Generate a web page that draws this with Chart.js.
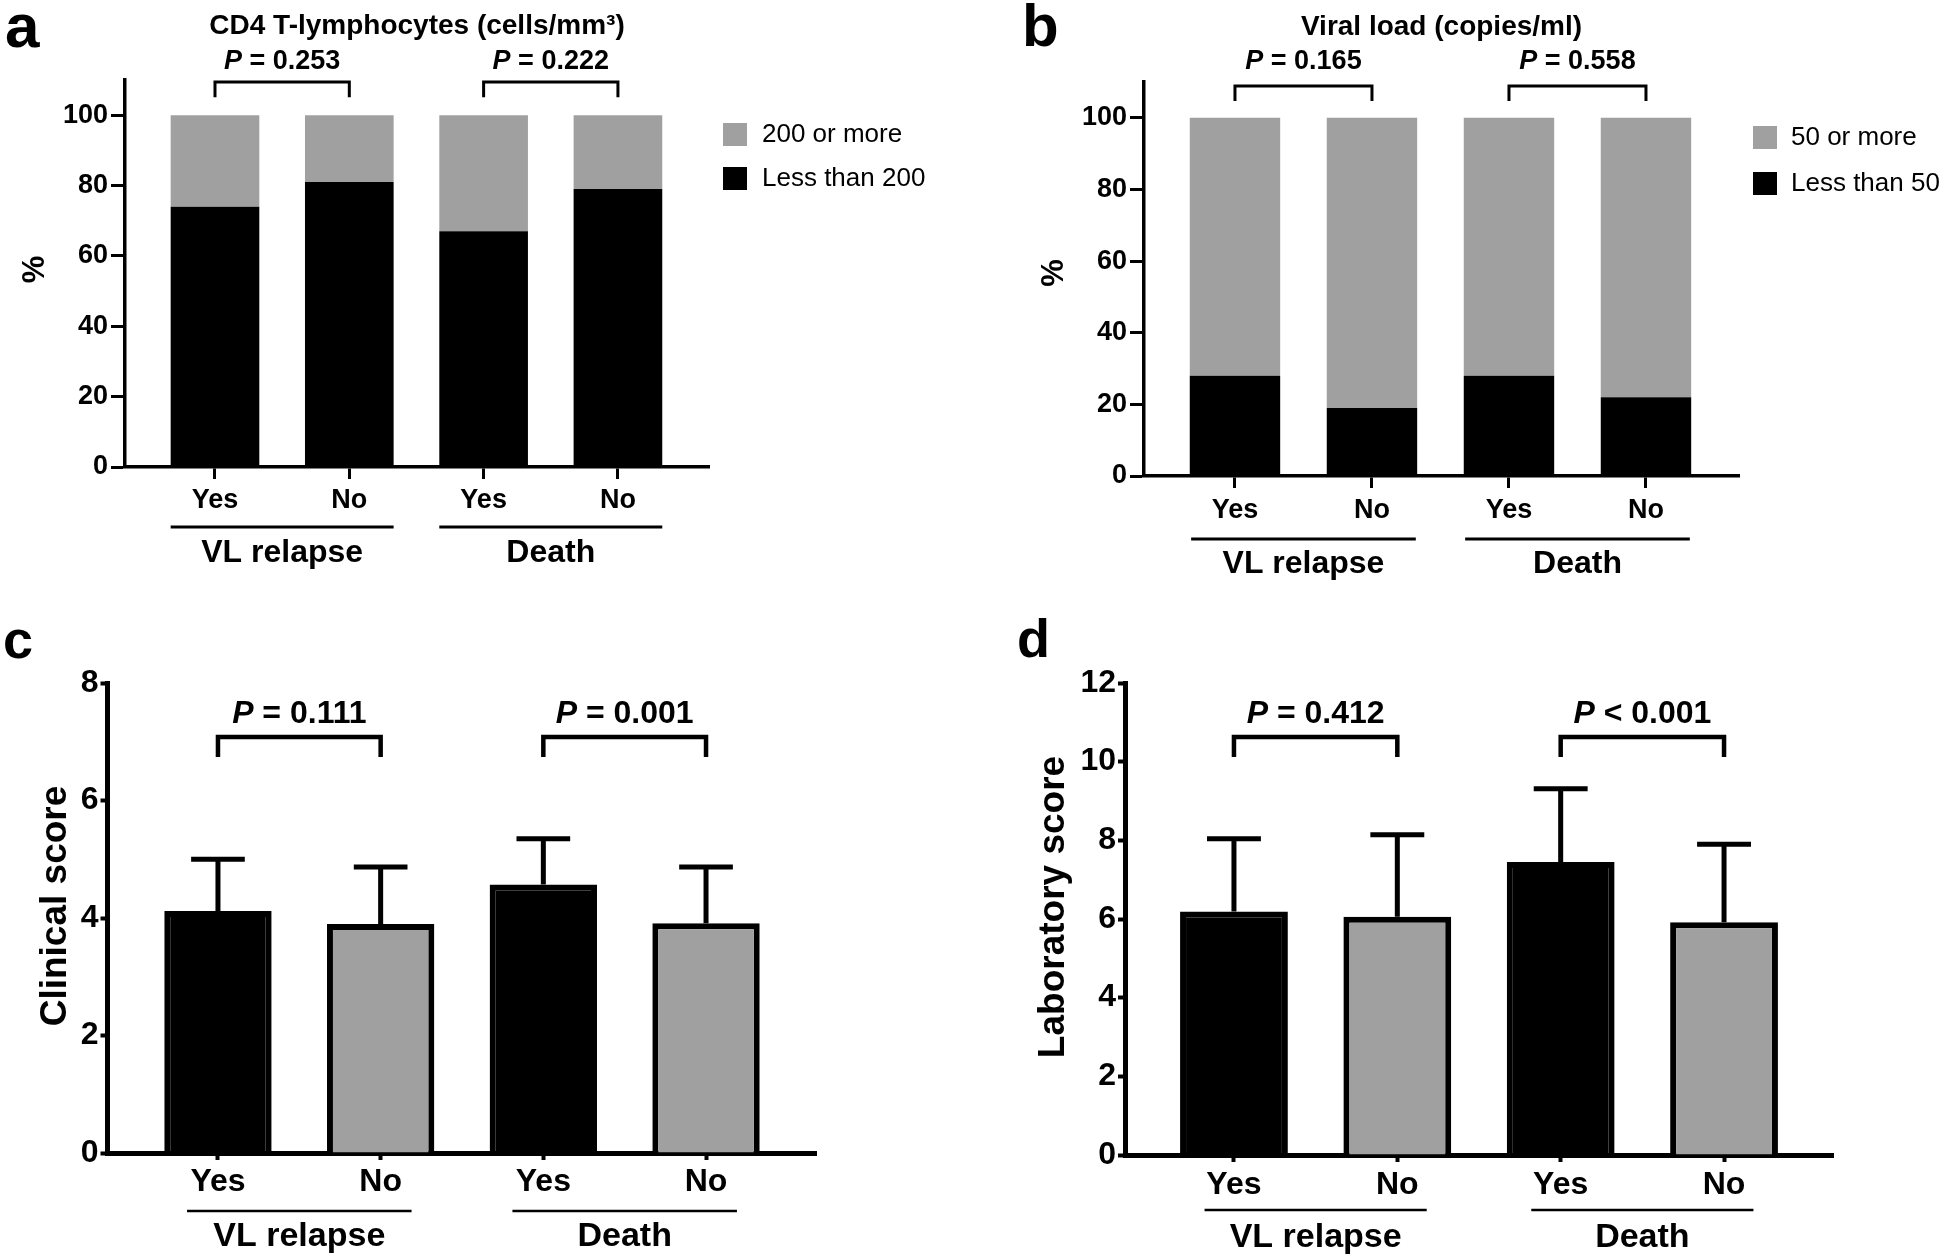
<!DOCTYPE html>
<html>
<head>
<meta charset="utf-8">
<script src="https://cdn.jsdelivr.net/npm/chart.js@4.4.1/dist/chart.umd.min.js"></script>
<style>
  body { margin: 0; background: #fff; }
  #page { position: relative; width: 1960px; height: 1260px; overflow: hidden; }
  canvas { position: absolute; }
</style>
</head>
<body>
<div id="page">
  <canvas id="panelA" width="980" height="600" style="left:0;top:0"></canvas>
  <canvas id="panelB" width="980" height="600" style="left:980px;top:0"></canvas>
  <canvas id="panelC" width="980" height="660" style="left:0;top:600px"></canvas>
  <canvas id="panelD" width="980" height="660" style="left:980px;top:600px"></canvas>
</div>
<script>
// categories
const outcomeLabels = ['Yes', 'No', 'Yes', 'No'];
const groupLabels = ['VL relapse', 'Death'];

// a: CD4 T-lymphocytes (%)
const cd4Below200 = [74, 81, 67, 79];
const cd4Above200 = [26, 19, 33, 21];
const cd4P = ['= 0.253', '= 0.222'];

// b: viral load (%)
const viralBelow50 = [28, 19, 28, 22];
const viralAbove50 = [72, 81, 72, 78];
const viralP = ['= 0.165', '= 0.558'];

// c: clinical score, mean and SD
const clinicalMean = [4.12, 3.90, 4.57, 3.91];
const clinicalSd = [0.88, 0.97, 0.78, 0.96];
const clinicalP = ['= 0.111', '= 0.001'];

// d: laboratory score, mean and SD
const labMean = [6.19, 6.06, 7.45, 5.92];
const labSd = [1.85, 2.08, 1.86, 1.98];
const labP = ['= 0.412', '< 0.001'];

const FONT = "'Liberation Sans', Arial, Helvetica, sans-serif";
const GRAY = '#a0a0a0';
const BLACK = '#000000';

Chart.defaults.font.family = FONT;
Chart.defaults.color = BLACK;

function drawP(ctx, text, cx, cy, size) {
  ctx.font = `italic bold ${size}px ${FONT}`;
  const wP = ctx.measureText('P').width;
  ctx.font = `bold ${size}px ${FONT}`;
  const rest = ' ' + text;
  const wR = ctx.measureText(rest).width;
  const x0 = cx - (wP + wR) / 2;
  ctx.textAlign = 'left';
  ctx.textBaseline = 'middle';
  ctx.font = `italic bold ${size}px ${FONT}`;
  ctx.fillText('P', x0, cy);
  ctx.font = `bold ${size}px ${FONT}`;
  ctx.fillText(rest, x0 + wP, cy);
}

// brackets, p values, group labels, legend, error bars, titles, panel letter
function makeExtras(cfg) {
  return {
    id: 'extras',
    afterDatasetsDraw(chart) {
      if (!cfg.errors) return;
      const { ctx, scales: { x, y } } = chart;
      ctx.save();
      ctx.strokeStyle = BLACK;
      ctx.lineWidth = cfg.errors.width;
      ctx.lineCap = 'butt';
      cfg.errors.mean.forEach((m, i) => {
        const px = x.getPixelForValue(i + 1);
        const yTop = y.getPixelForValue(m + cfg.errors.sd[i]);
        const yBar = y.getPixelForValue(m);
        const half = x.getPixelForValue(i + 1 + cfg.errors.cap) - px;
        ctx.beginPath();
        ctx.moveTo(px, yBar);
        ctx.lineTo(px, yTop);
        ctx.moveTo(px - half, yTop);
        ctx.lineTo(px + half, yTop);
        ctx.stroke();
      });
      ctx.restore();
    },
    afterDraw(chart) {
      const { ctx, chartArea, scales: { x, y } } = chart;
      ctx.save();
      ctx.fillStyle = BLACK;
      ctx.strokeStyle = BLACK;

      // panel letter
      ctx.font = `bold ${cfg.letter.size}px ${FONT}`;
      ctx.textAlign = 'left';
      ctx.textBaseline = 'alphabetic';
      ctx.fillText(cfg.letter.text, cfg.letter.x, cfg.letter.y);

      // panel title, centred over the plot area
      if (cfg.title) {
        ctx.font = `bold ${cfg.title.size}px ${FONT}`;
        ctx.textAlign = 'center';
        ctx.textBaseline = 'middle';
        ctx.fillText(cfg.title.text, (chartArea.left + chartArea.right) / 2, cfg.title.y);
      }

      // y axis title
      const t = cfg.yTitle;
      ctx.save();
      ctx.translate(t.x, (chartArea.top + chartArea.bottom) / 2 + t.shift);
      ctx.rotate(-Math.PI / 2);
      ctx.font = `bold ${t.size}px ${FONT}`;
      ctx.textAlign = 'center';
      ctx.textBaseline = 'middle';
      ctx.fillText(t.text, 0, 0);
      ctx.restore();

      // comparison brackets
      const b = cfg.brackets;
      [[1, 2], [3, 4]].forEach((pair, k) => {
        const x1 = x.getPixelForValue(pair[0]);
        const x2 = x.getPixelForValue(pair[1]);
        const yt = y.getPixelForValue(b.top);
        const yl = y.getPixelForValue(b.leg);
        ctx.lineWidth = b.width;
        ctx.lineJoin = 'miter';
        ctx.beginPath();
        ctx.moveTo(x1, yl);
        ctx.lineTo(x1, yt);
        ctx.lineTo(x2, yt);
        ctx.lineTo(x2, yl);
        ctx.stroke();
        drawP(ctx, b.texts[k], (x1 + x2) / 2, y.getPixelForValue(b.text), b.size);
      });

      // group underlines and names
      const g = cfg.groups;
      groupLabels.forEach((name, k) => {
        const a = k * 2 + 1;
        const xl = x.getPixelForValue(a - g.half);
        const xr = x.getPixelForValue(a + 1 + g.half);
        const yu = chartArea.bottom + g.lineOff;
        ctx.lineWidth = g.lineWidth;
        ctx.beginPath();
        ctx.moveTo(xl, yu);
        ctx.lineTo(xr, yu);
        ctx.stroke();
        ctx.font = `bold ${g.size}px ${FONT}`;
        ctx.textAlign = 'center';
        ctx.textBaseline = 'middle';
        ctx.fillText(name, (x.getPixelForValue(a) + x.getPixelForValue(a + 1)) / 2, chartArea.bottom + g.labelOff);
      });

      // legend (top item = last dataset)
      if (cfg.legend) {
        const L = cfg.legend;
        const sets = chart.data.datasets.slice().reverse();
        sets.forEach((ds, k) => {
          const top = L.y + k * L.gap;
          ctx.fillStyle = ds.backgroundColor;
          ctx.fillRect(L.x, top, L.box, L.box - 1);
          ctx.fillStyle = BLACK;
          ctx.font = `${L.size}px ${FONT}`;
          ctx.textAlign = 'left';
          ctx.textBaseline = 'middle';
          ctx.fillText(ds.label, L.x + L.textGap, top + L.box / 2);
        });
      }
      ctx.restore();
    }
  };
}

function makePanel(id, cfg) {
  const stacked = !!cfg.stacked;
  return new Chart(document.getElementById(id), {
    type: 'bar',
    data: { datasets: cfg.datasets },
    options: {
      responsive: false,
      animation: false,
      devicePixelRatio: 1,
      layout: { padding: cfg.padding },
      plugins: {
        legend: { display: false },
        tooltip: { enabled: false },
        title: { display: false }
      },
      scales: {
        x: {
          type: 'linear',
          stacked,
          offset: false,
          min: cfg.xMin,
          max: cfg.xMax,
          afterBuildTicks: s => { s.ticks = outcomeLabels.map((_, i) => ({ value: i + 1 })); },
          afterFit: s => { s.height = 100; },
          ticks: {
            autoSkip: false,
            maxRotation: 0,
            padding: cfg.xPad,
            color: BLACK,
            font: { size: cfg.tickSize, weight: 'bold' },
            callback: v => outcomeLabels[v - 1]
          },
          grid: { offset: false, drawOnChartArea: false, drawTicks: true, tickLength: cfg.xTick, tickWidth: cfg.tickWidth, tickColor: BLACK },
          border: { display: true, color: BLACK, width: cfg.axisWidth }
        },
        y: {
          stacked,
          min: 0,
          max: cfg.yMax,
          afterFit: s => { s.width = cfg.yWidth; },
          ticks: {
            stepSize: cfg.yStep,
            includeBounds: false,
            padding: cfg.yPad,
            color: BLACK,
            font: { size: cfg.tickSize, weight: 'bold' }
          },
          grid: { drawOnChartArea: false, drawTicks: true, tickLength: cfg.yTick, tickWidth: cfg.tickWidth, tickColor: BLACK },
          border: { display: true, color: BLACK, width: cfg.axisWidth }
        }
      }
    },
    plugins: [makeExtras(cfg)]
  });
}

const points = arr => arr.map((v, i) => ({ x: i + 1, y: v }));
const barStyle = { categoryPercentage: 1, barPercentage: 0.66 };

makePanel('panelA', {
  stacked: true,
  datasets: [
    { label: 'Less than 200', data: points(cd4Below200), backgroundColor: BLACK, borderWidth: 0, ...barStyle },
    { label: '200 or more', data: points(cd4Above200), backgroundColor: GRAY, borderWidth: 0, ...barStyle }
  ],
  padding: { left: 15, right: 271, top: 80, bottom: 33 },
  title: { text: 'CD4 T-lymphocytes (cells/mm³)', size: 28, y: 26 },
  xMin: 0.33, xMax: 4.678,
  yMax: 110, yStep: 20, yWidth: 110, yTick: 14, yPad: 3,
  yTitle: { text: '%', size: 31, x: 35, shift: -4 },
  xTick: 12, xPad: 5, tickSize: 27, axisWidth: 3.5, tickWidth: 3,
  brackets: { top: 109.4, leg: 105.1, text: 115.3, texts: cd4P, size: 27, width: 3 },
  groups: { half: 0.33, lineOff: 60, labelOff: 86, size: 32, lineWidth: 3 },
  legend: { x: 723, y: 123, gap: 44, box: 24, textGap: 39, size: 26 },
  letter: { text: 'a', x: 5, y: 47, size: 62 }
});

makePanel('panelB', {
  stacked: true,
  datasets: [
    { label: 'Less than 50', data: points(viralBelow50), backgroundColor: BLACK, borderWidth: 0, ...barStyle },
    { label: '50 or more', data: points(viralAbove50), backgroundColor: GRAY, borderWidth: 0, ...barStyle }
  ],
  padding: { left: 54, right: 221, top: 82, bottom: 24 },
  title: { text: 'Viral load (copies/ml)', size: 28, y: 27 },
  xMin: 0.336, xMax: 4.679,
  yMax: 110, yStep: 20, yWidth: 110, yTick: 14, yPad: 3,
  yTitle: { text: '%', size: 31, x: 74, shift: -6 },
  xTick: 12, xPad: 6, tickSize: 27, axisWidth: 3.5, tickWidth: 3,
  brackets: { top: 108.9, leg: 104.7, text: 115.6, texts: viralP, size: 27, width: 3 },
  groups: { half: 0.32, lineOff: 63, labelOff: 88, size: 32, lineWidth: 3 },
  legend: { x: 773, y: 126, gap: 46, box: 24, textGap: 38, size: 26 },
  letter: { text: 'b', x: 42, y: 46, size: 60 }
});

const scoreColors = [BLACK, GRAY, BLACK, GRAY];

makePanel('panelC', {
  datasets: [
    { label: 'Clinical score', data: points(clinicalMean), backgroundColor: scoreColors, borderColor: BLACK, borderWidth: 6, ...barStyle }
  ],
  padding: { left: 7.5, right: 164, top: 83, bottom: 7 },
  xMin: 0.321, xMax: 4.676,
  yMax: 8, yStep: 2, yWidth: 100, yTick: 7, yPad: 2,
  yTitle: { text: 'Clinical score', size: 37, x: 56, shift: -12 },
  xTick: 7, xPad: 3, tickSize: 32, axisWidth: 5, tickWidth: 4,
  errors: { mean: clinicalMean, sd: clinicalSd, width: 5, cap: 0.165 },
  brackets: { top: 7.08, leg: 6.74, text: 7.47, texts: clinicalP, size: 32, width: 4.5 },
  groups: { half: 0.19, lineOff: 58, labelOff: 84, size: 34, lineWidth: 2.5 },
  letter: { text: 'c', x: 3, y: 58, size: 54 }
});

makePanel('panelD', {
  datasets: [
    { label: 'Laboratory score', data: points(labMean), backgroundColor: scoreColors, borderColor: BLACK, borderWidth: 6, ...barStyle }
  ],
  padding: { left: 35, right: 127, top: 83, bottom: 5 },
  xMin: 0.333, xMax: 4.667,
  yMax: 12, yStep: 2, yWidth: 110, yTick: 7, yPad: 2,
  yTitle: { text: 'Laboratory score', size: 37, x: 74, shift: -12 },
  xTick: 7, xPad: 4, tickSize: 32, axisWidth: 5, tickWidth: 4,
  errors: { mean: labMean, sd: labSd, width: 5, cap: 0.165 },
  brackets: { top: 10.63, leg: 10.12, text: 11.21, texts: labP, size: 32, width: 4.5 },
  groups: { half: 0.18, lineOff: 55, labelOff: 83, size: 34, lineWidth: 2.5 },
  letter: { text: 'd', x: 37, y: 57, size: 54 }
});
</script>
</body>
</html>
